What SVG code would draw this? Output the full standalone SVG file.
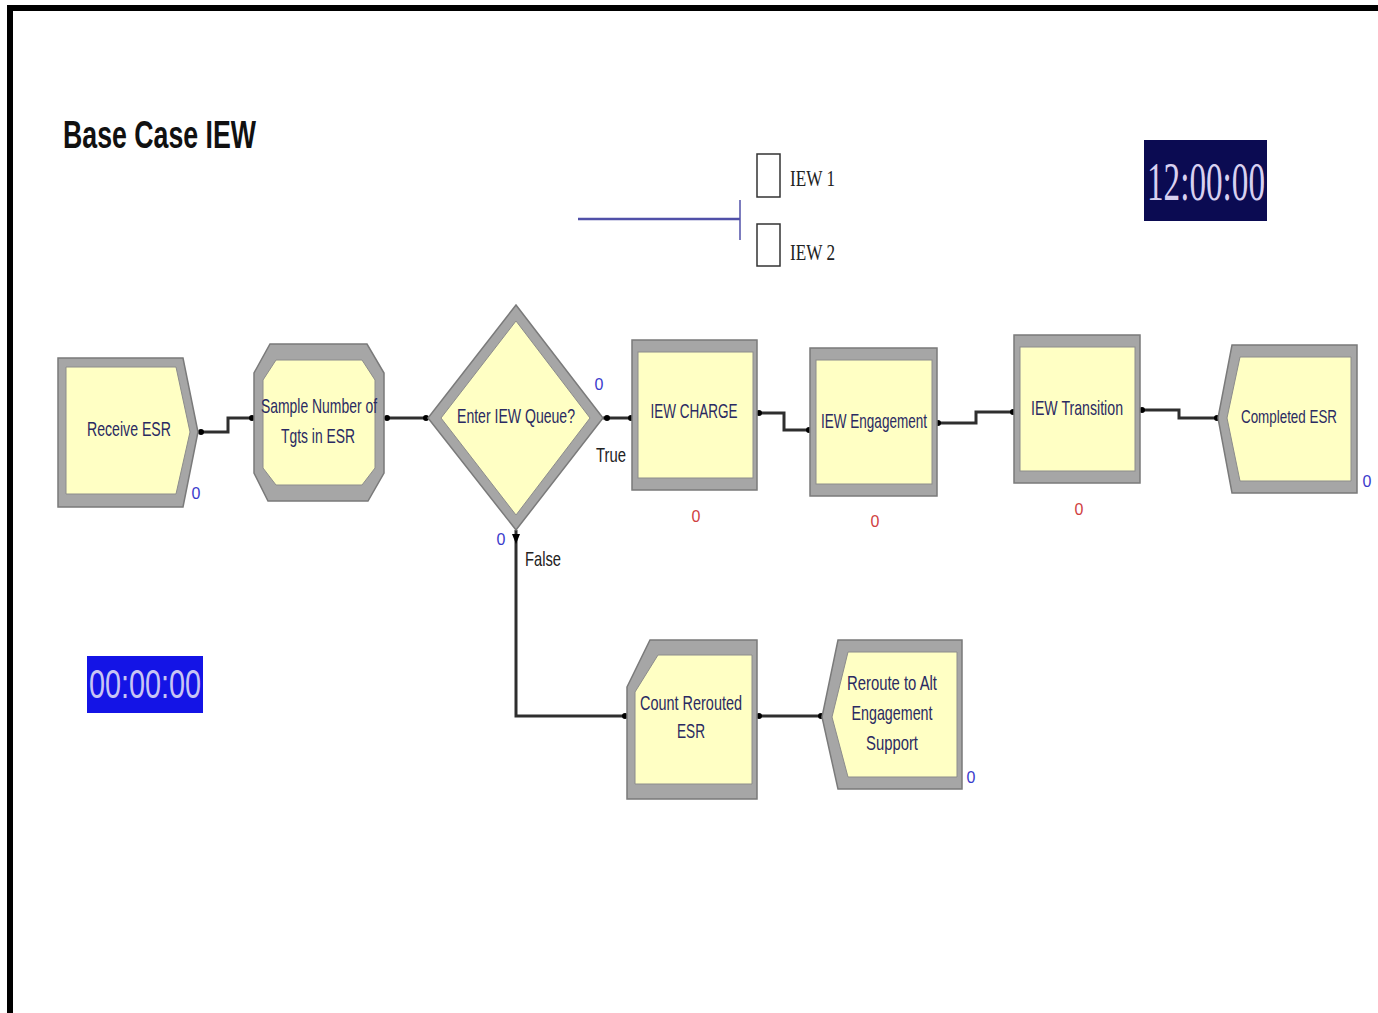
<svg xmlns="http://www.w3.org/2000/svg" width="1378" height="1013" viewBox="0 0 1378 1013">
<style>
.frame{fill:none;stroke:#000;stroke-width:6}
.outer{fill:#A6A6A6;stroke:#7A7A7A;stroke-width:1.5}
.inner{fill:#FFFFC4;stroke:#8C8C8C;stroke-width:1}
.lbl{font-family:"Liberation Sans","DejaVu Sans",sans-serif;font-size:21px;fill:#2A2A62;text-anchor:middle}
.cnt{font-family:"Liberation Sans",sans-serif;font-size:16px;text-anchor:middle}
.blue{fill:#3A3ACC}
.red{fill:#D04040}
.conn{fill:none;stroke:#2E2E2E;stroke-width:3}
.dot{fill:#000}
.side{font-family:"Liberation Sans","DejaVu Sans",sans-serif;font-size:21px;fill:#222}
.leg{font-family:"Liberation Serif",serif;font-size:24px;fill:#222}
</style>
<rect x="0" y="0" width="1378" height="1013" fill="#fff"/>
<path class="frame" d="M10,1013 V8 H1378"/>

<text x="63" y="148" font-family="Liberation Sans,DejaVu Sans,sans-serif" font-weight="bold" font-size="38" fill="#111" textLength="193" lengthAdjust="spacingAndGlyphs">Base Case IEW</text>

<g id="legend">
<line x1="578" y1="219" x2="740" y2="219" stroke="#5050A8" stroke-width="2.5"/>
<line x1="740" y1="200" x2="740" y2="240" stroke="#5050A8" stroke-width="1.5"/>
<rect x="757" y="154" width="23" height="43" fill="#fff" stroke="#333" stroke-width="1.5"/>
<rect x="757" y="224" width="23" height="42" fill="#fff" stroke="#333" stroke-width="1.5"/>
<text class="leg" x="790" y="186" textLength="45" lengthAdjust="spacingAndGlyphs">IEW 1</text>
<text class="leg" x="790" y="260" textLength="45" lengthAdjust="spacingAndGlyphs">IEW 2</text>
</g>

<g id="clock">
<rect x="1144" y="140" width="123" height="81" fill="#0B0B52"/>
<text x="1206" y="200" font-family="Liberation Serif,serif" font-size="54" fill="#D8D0F0" text-anchor="middle" textLength="118" lengthAdjust="spacingAndGlyphs">12:00:00</text>
</g>
<g id="timer">
<rect x="87" y="656" width="116" height="57" fill="#1414E6"/>
<text x="145" y="698" font-family="Liberation Sans,sans-serif" font-size="40" fill="#C8C4F4" text-anchor="middle" textLength="112" lengthAdjust="spacingAndGlyphs">00:00:00</text>
</g>

<g id="connectors">
<polyline class="conn" points="200,432 228,432 228,418 253,418"/>
<polyline class="conn" points="385,418 428,418"/>
<polyline class="conn" points="603,418 632,418"/>
<polyline class="conn" points="757,413 784,413 784,430 810,430"/>
<polyline class="conn" points="937,423 976,423 976,412 1014,412"/>
<polyline class="conn" points="1140,410 1179,410 1179,418 1218,418"/>
<polyline class="conn" points="516,530 516,716 626,716" stroke-width="2.5"/>
<polyline class="conn" points="757,716 822,716"/>
<circle class="dot" cx="201" cy="432" r="3"/>
<circle class="dot" cx="252" cy="418" r="3"/>
<circle class="dot" cx="387" cy="418" r="3"/>
<circle class="dot" cx="426" cy="418" r="3"/>
<circle class="dot" cx="607" cy="418" r="3"/>
<circle class="dot" cx="631" cy="418" r="3"/>
<circle class="dot" cx="759" cy="413" r="3"/>
<circle class="dot" cx="809" cy="430" r="3"/>
<circle class="dot" cx="938" cy="423" r="3"/>
<circle class="dot" cx="1013" cy="412" r="3"/>
<circle class="dot" cx="1142" cy="410" r="3"/>
<circle class="dot" cx="1217" cy="418" r="3"/>
<path d="M512,534 L520,534 L516,544 Z" fill="#000"/>
<circle class="dot" cx="625" cy="716" r="3"/>
<circle class="dot" cx="759" cy="716" r="3"/>
<circle class="dot" cx="821" cy="716" r="3"/>
<text class="side" x="611" y="462" text-anchor="middle" textLength="30" lengthAdjust="spacingAndGlyphs">True</text>
<text class="side" x="543" y="566" text-anchor="middle" textLength="36" lengthAdjust="spacingAndGlyphs">False</text>
</g>

<g id="receive-esr">
<polygon class="outer" points="58,358 183,358 198,432 183,507 58,507"/>
<polygon class="inner" points="66,367 176,367 190,432 176,494 66,494"/>
<text class="lbl" x="129" y="436" textLength="84" lengthAdjust="spacingAndGlyphs">Receive ESR</text>
<text class="cnt blue" x="196" y="499">0</text>
</g>

<g id="sample-number">
<polygon class="outer" points="270,344 367,344 384,373 384,473 368,501 268,501 254,473 254,373"/>
<polygon class="inner" points="276,360 362,360 375,380 375,468 362,485 276,485 263,468 263,380"/>
<text class="lbl" x="319" y="413" textLength="116" lengthAdjust="spacingAndGlyphs">Sample Number of</text>
<text class="lbl" x="318" y="443" textLength="74" lengthAdjust="spacingAndGlyphs">Tgts in ESR</text>
</g>

<g id="enter-iew-queue">
<polygon class="outer" points="516,305 603,418 516,530 428,418"/>
<polygon class="inner" points="516,321 590,418 516,515 441,418"/>
<text class="lbl" x="516" y="423" textLength="118" lengthAdjust="spacingAndGlyphs">Enter IEW Queue?</text>
<text class="cnt blue" x="599" y="390">0</text>
<text class="cnt blue" x="501" y="545">0</text>
</g>

<g id="iew-charge">
<rect class="outer" x="632" y="340" width="125" height="150"/>
<rect class="inner" x="638" y="352" width="115" height="126"/>
<text class="lbl" x="694" y="418" textLength="87" lengthAdjust="spacingAndGlyphs">IEW CHARGE</text>
<text class="cnt red" x="696" y="522">0</text>
</g>

<g id="iew-engagement">
<rect class="outer" x="810" y="348" width="127" height="148"/>
<rect class="inner" x="816" y="360" width="116" height="124"/>
<text class="lbl" x="874" y="428" textLength="106" lengthAdjust="spacingAndGlyphs">IEW Engagement</text>
<text class="cnt red" x="875" y="527">0</text>
</g>

<g id="iew-transition">
<rect class="outer" x="1014" y="335" width="126" height="148"/>
<rect class="inner" x="1020" y="347" width="115" height="124"/>
<text class="lbl" x="1077" y="415" textLength="92" lengthAdjust="spacingAndGlyphs">IEW Transition</text>
<text class="cnt red" x="1079" y="515">0</text>
</g>

<g id="completed-esr">
<polygon class="outer" points="1232,345 1357,345 1357,493 1232,493 1218,418"/>
<polygon class="inner" points="1240,357 1351,357 1351,481 1240,481 1227,418"/>
<text class="lbl" x="1289" y="423" font-size="19" textLength="96" lengthAdjust="spacingAndGlyphs" style="font-size:19px">Completed ESR</text>
<text class="cnt blue" x="1367" y="487">0</text>
</g>

<g id="count-rerouted-esr">
<polygon class="outer" points="627,687 650,640 757,640 757,799 627,799"/>
<polygon class="inner" points="635,692 658,655 752,655 752,784 635,784"/>
<text class="lbl" x="691" y="710" textLength="102" lengthAdjust="spacingAndGlyphs">Count Rerouted</text>
<text class="lbl" x="691" y="738" textLength="28" lengthAdjust="spacingAndGlyphs">ESR</text>
</g>

<g id="reroute-alt">
<polygon class="outer" points="838,640 962,640 962,789 838,789 822,717"/>
<polygon class="inner" points="848,652 957,652 957,777 848,777 832,717"/>
<text class="lbl" x="892" y="690" textLength="90" lengthAdjust="spacingAndGlyphs">Reroute to Alt</text>
<text class="lbl" x="892" y="720" textLength="81" lengthAdjust="spacingAndGlyphs">Engagement</text>
<text class="lbl" x="892" y="750" textLength="52" lengthAdjust="spacingAndGlyphs">Support</text>
<text class="cnt blue" x="971" y="783">0</text>
</g>
</svg>
